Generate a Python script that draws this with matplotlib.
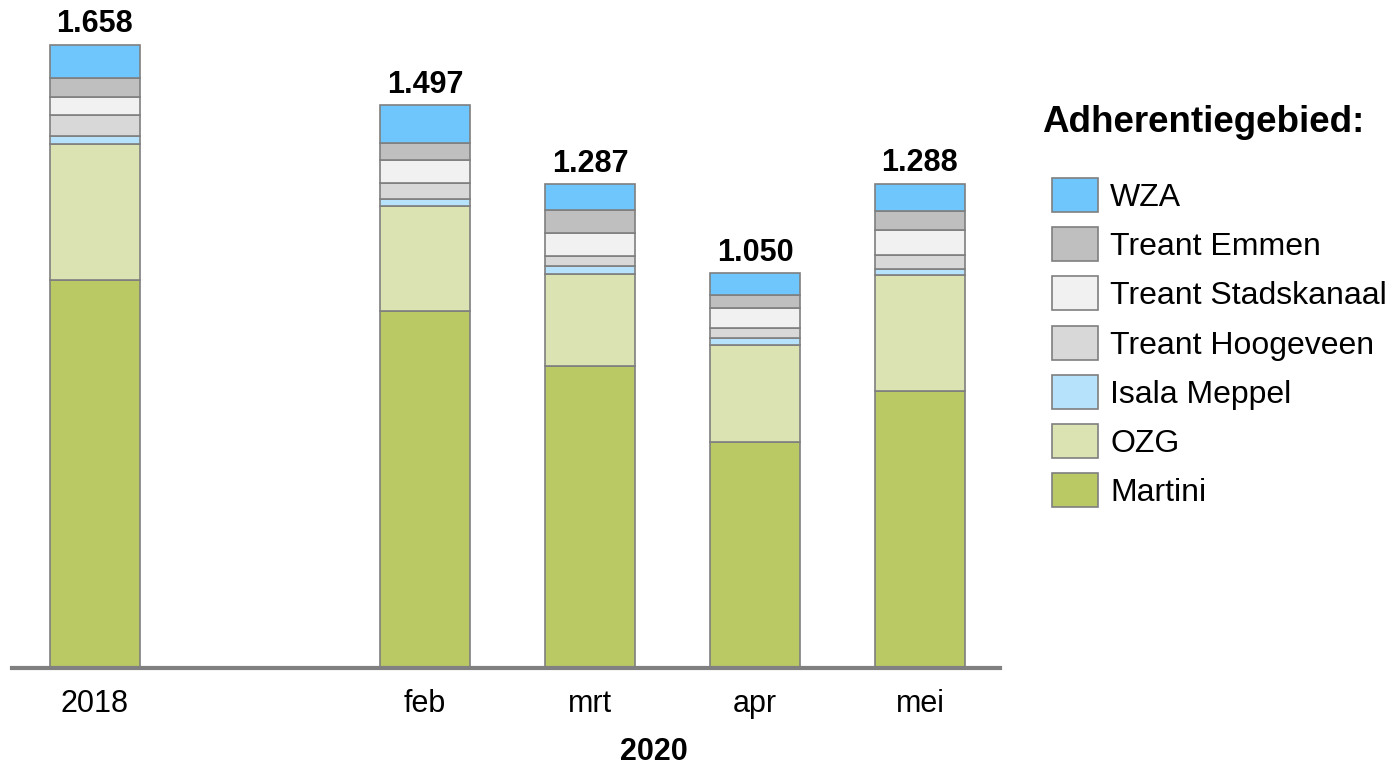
import numpy as np
import matplotlib
matplotlib.use("Agg")
import matplotlib.pyplot as plt
from matplotlib.patches import Rectangle

plt.rcParams['font.family'] = ['Liberation Sans', 'DejaVu Sans']

# Gegevens
categorieen = ["2018", "feb", "mrt", "apr", "mei"]
posities = [0, 2, 3, 4, 5]
totalen = ["1.658", "1.497", "1.287", "1.050", "1.288"]

martini = [1033, 949, 805, 601, 736]
ozg = [361, 280, 244, 259, 311]
isala_meppel = [22, 20, 20, 18, 14]
treant_hoogeveen = [56, 43, 28, 26, 39]
treant_stadskanaal = [48, 59, 62, 55, 65]
treant_emmen = [51, 45, 59, 35, 51]
wza = [87, 101, 69, 56, 72]

reeksen = [
    ("Martini", martini, "#BBC965"),
    ("OZG", ozg, "#DCE3B2"),
    ("Isala Meppel", isala_meppel, "#B7E2FB"),
    ("Treant Hoogeveen", treant_hoogeveen, "#D8D8D8"),
    ("Treant Stadskanaal", treant_stadskanaal, "#F1F1F1"),
    ("Treant Emmen", treant_emmen, "#BFBFBF"),
    ("WZA", wza, "#6FC6FD"),
]

W, H = 1388, 768
fig = plt.figure(figsize=(W / 100, H / 100), dpi=100)
# as: basislijn op y=668 px, van x=12 tot x=1000 px
ax = fig.add_axes([12 / W, 1 - 668 / H, (1000 - 12) / W, (668 - 20) / H])

bodem = np.zeros(len(posities))
for naam, waarden, kleur in reeksen:
    ax.bar(posities, waarden, width=0.55, bottom=bodem, color=kleur,
           edgecolor="#7F7F7F", linewidth=1.2, zorder=2)
    bodem = bodem + np.array(waarden)

for x, top, lab in zip(posities, bodem, totalen):
    ax.annotate(lab, (x, top), xytext=(0, 4), textcoords="offset points",
                ha="center", va="bottom", fontsize=22, fontweight="bold")

ax.set_xlim(-0.503, 5.485)
ax.set_ylim(0, 648 * 1658 / 623)
ax.set_xticks(posities)
ax.set_xticklabels(categorieen, fontsize=22)
ax.tick_params(axis="x", length=0, pad=15)
ax.set_yticks([])
for s in ["top", "right", "left"]:
    ax.spines[s].set_visible(False)
ax.spines["bottom"].set_color("#808080")
ax.spines["bottom"].set_linewidth(3)
ax.spines["bottom"].set_zorder(3)

fig.text(654 / W, 1 - 752 / H, "2020", ha="center", va="center",
         fontsize=22, fontweight="bold")

# legenda
fig.text(1042 / W, 1 - 122 / H, "Adherentiegebied:", ha="left", va="center",
         fontsize=26.5, fontweight="bold")
for i, (naam, waarden, kleur) in enumerate(reversed(reeksen)):
    yc = 195 + i * 49.2
    fig.add_artist(Rectangle((1052 / W, 1 - (yc + 17) / H), 46 / W, 34 / H,
                             transform=fig.transFigure, facecolor=kleur,
                             edgecolor="#7F7F7F", linewidth=1.2))
    fig.text(1110 / W, 1 - (yc + 3) / H, naam, ha="left", va="center", fontsize=23)

fig.savefig("out.png", dpi=100)
